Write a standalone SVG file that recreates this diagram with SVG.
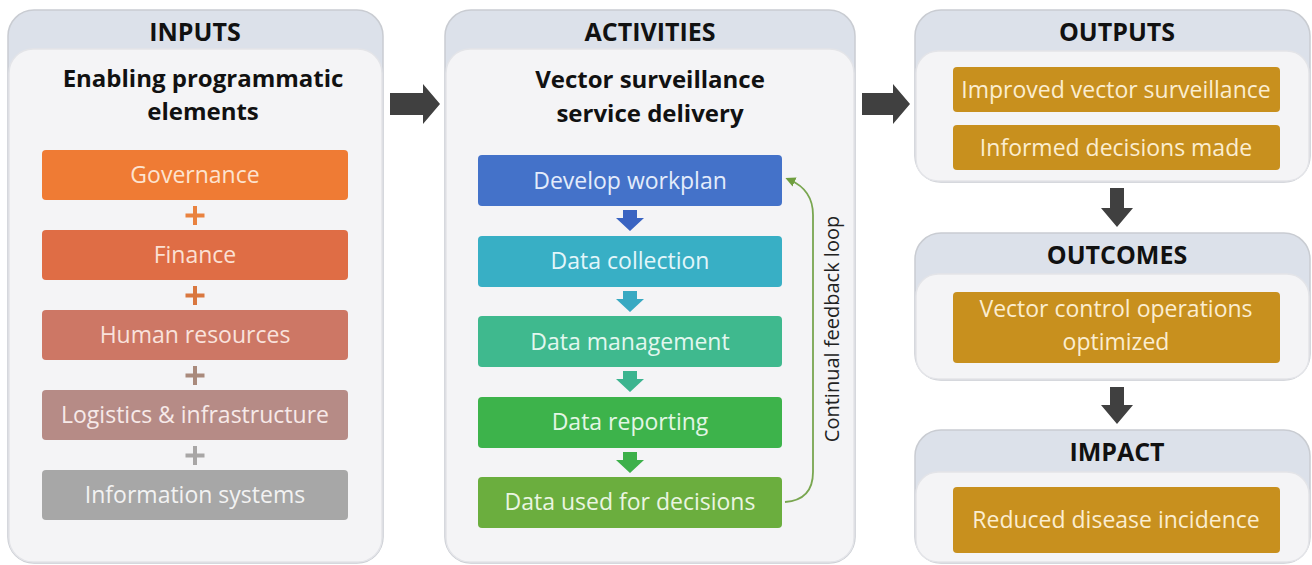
<svg xmlns="http://www.w3.org/2000/svg" width="1312" height="565" viewBox="0 0 1312 565">
<defs>
<style>
.outer{fill:#dce1ea;stroke:#c9ccd2;stroke-width:1.5}
.inner{fill:#f4f4f6;stroke:#e3e4e8;stroke-width:1.5}
.hdr{font-family:"Open Sans","Liberation Sans",sans-serif;font-weight:bold;font-size:25px;fill:#111;text-anchor:middle}
.sub{font-family:"Open Sans","Liberation Sans",sans-serif;font-weight:bold;font-size:24px;fill:#111;text-anchor:middle}
.bt{font-family:"Open Sans","Liberation Sans",sans-serif;font-size:23px;text-anchor:middle}
.plus{stroke-width:4;fill:none}
.big{fill:#404040}
</style>
<marker id="fbh" markerWidth="10" markerHeight="10" refX="5" refY="5" orient="auto" markerUnits="userSpaceOnUse">
<path d="M0,0 L10,5 L0,10 z" fill="#6f9e3f"/>
</marker>
</defs>

<g id="inputs">
<rect class="outer" x="8" y="10" width="375" height="553" rx="26"/>
<rect class="inner" x="9" y="49" width="373" height="513" rx="24"/>
<text class="hdr" x="195" y="41">INPUTS</text>
<text class="sub" x="203" y="87">Enabling programmatic</text>
<text class="sub" x="203" y="120">elements</text>
<g id="governance"><rect x="42" y="150" width="306" height="50" rx="4" fill="#ef7b34"/><text class="bt" x="195" y="183" fill="#fde3cf">Governance</text></g>
<path class="plus" d="M195,206 v19 M185.5,215.5 h19" stroke="#e9823f"/>
<g id="finance"><rect x="42" y="230" width="306" height="50" rx="4" fill="#df6d45"/><text class="bt" x="195" y="263" fill="#fbe0d3">Finance</text></g>
<path class="plus" d="M195,286 v19 M185.5,295.5 h19" stroke="#d9773f"/>
<g id="human-resources"><rect x="42" y="310" width="306" height="50" rx="4" fill="#cd7765"/><text class="bt" x="195" y="343" fill="#f9e2dc">Human resources</text></g>
<path class="plus" d="M195,366 v19 M185.5,375.5 h19" stroke="#a98a7c"/>
<g id="logistics"><rect x="42" y="390" width="306" height="50" rx="4" fill="#b68b86"/><text class="bt" x="195" y="423" fill="#f6e9e8">Logistics &amp; infrastructure</text></g>
<path class="plus" d="M195,446 v19 M185.5,455.5 h19" stroke="#a8a6a6"/>
<g id="information-systems"><rect x="42" y="470" width="306" height="50" rx="4" fill="#a7a7a7"/><text class="bt" x="195" y="503" fill="#f2f2f2">Information systems</text></g>
</g>

<g id="activities">
<rect class="outer" x="445" y="10" width="410" height="553" rx="26"/>
<rect class="inner" x="446" y="49" width="408" height="513" rx="24"/>
<text class="hdr" x="650" y="41">ACTIVITIES</text>
<text class="sub" x="650" y="88">Vector surveillance</text>
<text class="sub" x="650" y="122">service delivery</text>
<g id="develop-workplan"><rect x="478" y="155" width="304" height="51" rx="4" fill="#4472c9"/><text class="bt" x="630" y="189" fill="#e3ecfb">Develop workplan</text></g>
<g id="data-collection"><rect x="478" y="236" width="304" height="51" rx="4" fill="#38afc5"/><text class="bt" x="630" y="269" fill="#e2f6fa">Data collection</text></g>
<g id="data-management"><rect x="478" y="316" width="304" height="51" rx="4" fill="#3fb98e"/><text class="bt" x="630" y="350" fill="#e2f7ef">Data management</text></g>
<g id="data-reporting"><rect x="478" y="397" width="304" height="51" rx="4" fill="#3db34b"/><text class="bt" x="630" y="430" fill="#e3f6e5">Data reporting</text></g>
<g id="data-used"><rect x="478" y="477" width="304" height="51" rx="4" fill="#6bae3e"/><text class="bt" x="630" y="510" fill="#eaf5e1">Data used for decisions</text></g>
</g>

<g id="outputs">
<rect class="outer" x="915" y="10" width="395" height="172" rx="26"/>
<rect class="inner" x="916" y="51" width="393" height="130" rx="22"/>
<text class="hdr" x="1117" y="41">OUTPUTS</text>
<g id="improved-surveillance"><rect x="953" y="67" width="327" height="45" rx="4" fill="#c8901e"/><text class="bt" x="1116" y="98" fill="#fbedd0">Improved vector surveillance</text></g>
<g id="informed-decisions"><rect x="953" y="125" width="327" height="45" rx="4" fill="#c8901e"/><text class="bt" x="1116" y="156" fill="#fbedd0">Informed decisions made</text></g>
</g>

<g id="outcomes">
<rect class="outer" x="915" y="233" width="395" height="147" rx="26"/>
<rect class="inner" x="916" y="274" width="393" height="105" rx="22"/>
<text class="hdr" x="1117" y="264">OUTCOMES</text>
<g id="vector-control"><rect x="953" y="292" width="327" height="71" rx="4" fill="#c8901e"/><text class="bt" x="1116" y="317" fill="#fbedd0">Vector control operations</text><text class="bt" x="1116" y="350" fill="#fbedd0">optimized</text></g>
</g>

<g id="impact">
<rect class="outer" x="915" y="430" width="395" height="133" rx="26"/>
<rect class="inner" x="916" y="472" width="393" height="90" rx="22"/>
<text class="hdr" x="1117" y="461">IMPACT</text>
<g id="reduced-incidence"><rect x="953" y="487" width="327" height="66" rx="4" fill="#c8901e"/><text class="bt" x="1116" y="528" fill="#fbedd0">Reduced disease incidence</text></g>
</g>

<g id="connectors">
<path class="big" d="M390,93 H423 V84 L440,104 L423,124 V115 H390 Z"/>
<path class="big" d="M862,93 H893 V84 L910,104 L893,124 V115 H862 Z"/>
<path class="big" d="M1110,188 V208 H1101 L1117,227 L1133,208 H1124 V188 Z"/>
<path class="big" d="M1110,387 V405 H1101 L1117,424 L1133,405 H1124 V387 Z"/>
<path d="M623,210 V218 H616 L630,231 L644,218 H637 V210 Z" fill="#3a64c2"/>
<path d="M623,291 V299 H616 L630,312 L644,299 H637 V291 Z" fill="#38a9c2"/>
<path d="M623,371 V379 H616 L630,392 L644,379 H637 V371 Z" fill="#3cb48f"/>
<path d="M623,452 V460 H616 L630,473 L644,460 H637 V452 Z" fill="#3db04a"/>
<path d="M785,502 Q813,500 813,472 V215 Q813,190 790,180" fill="none" stroke="#79a650" stroke-width="1.8" marker-end="url(#fbh)"/>
<text transform="translate(839,329) rotate(-90)" font-family="'Open Sans','Liberation Sans',sans-serif" font-size="20" fill="#222" text-anchor="middle">Continual feedback loop</text>
</g>
</svg>
